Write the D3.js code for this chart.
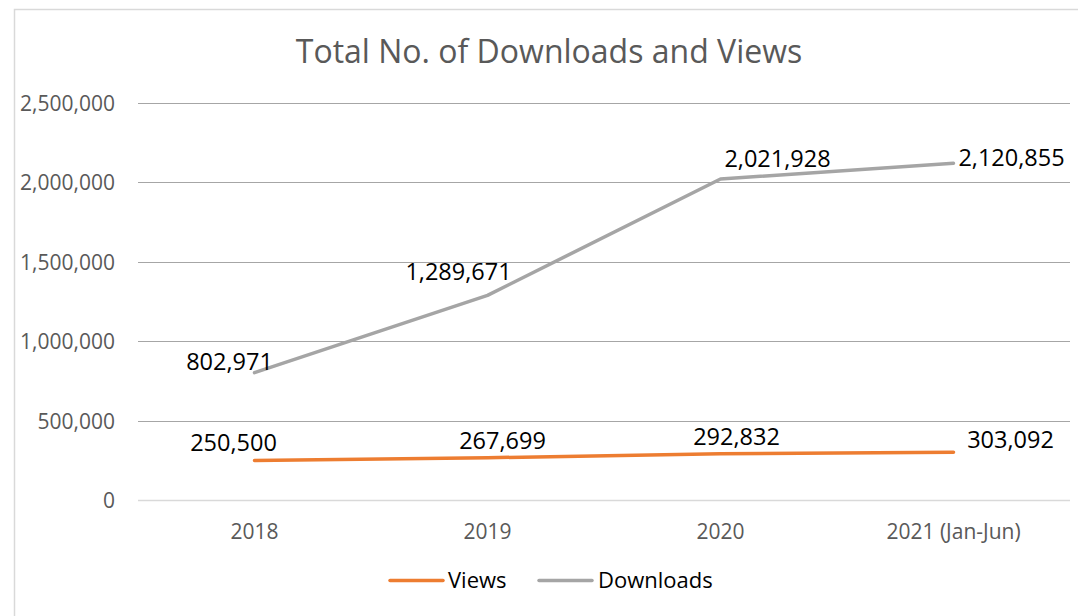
<!DOCTYPE html>
<html>
<head>
<meta charset="utf-8">
<script src="https://cdn.jsdelivr.net/npm/d3@7"></script>
<style>
  html, body { margin: 0; padding: 0; background: #fff; }
  svg { display: block; }
  text { font-family: "Open Sans", "Noto Sans", sans-serif; }
</style>
</head>
<body>
<svg id="chart" width="1078" height="616"></svg>
<script>
// ---- data ----
const categories = ["2018", "2019", "2020", "2021 (Jan-Jun)"];
const views = [250500, 267699, 292832, 303092];
const downloads = [802971, 1289671, 2021928, 2120855];
const yTicks = [0, 500000, 1000000, 1500000, 2000000, 2500000];
const title = "Total No. of Downloads and Views";
const seriesNames = ["Views", "Downloads"];

// ---- layout / style ----
const W = 1078, H = 616;
const plot = { left: 138, right: 1070, top: 103, bottom: 500.3 };
const colors = { Views: "#ED7D31", Downloads: "#A5A5A5" };
// label offsets relative to point (center x, baseline y)
const labelOffsets = {
  Views: [[-21, -9], [15, -9], [16, -9], [57, -4]],
  Downloads: [[-25, -3], [-29, -15], [57, -12], [58, 3]]
};

const svg = d3.select("#chart");

// border
svg.append("rect")
  .attr("x", 14.5).attr("y", 9.5)
  .attr("width", 1200).attr("height", 800)
  .attr("fill", "#fff").attr("stroke", "#d9d9d9").attr("stroke-width", 1.5);

const x = d3.scaleBand().domain(categories).range([plot.left, plot.right]).padding(0);
const y = d3.scaleLinear().domain([0, 2500000]).range([plot.bottom, plot.top]);
const fmt = d3.format(",");

// gridlines
svg.append("g").selectAll("line").data(yTicks).join("line")
  .attr("x1", plot.left).attr("x2", plot.right)
  .attr("y1", d => Math.round(y(d)) + 0.5).attr("y2", d => Math.round(y(d)) + 0.5)
  .attr("stroke", d => d === 0 ? "#d9d9d9" : "#a6a6a6")
  .attr("stroke-width", d => d === 0 ? 1.5 : 1);

// y tick labels
svg.append("g").selectAll("text").data(yTicks).join("text")
  .attr("x", 115).attr("y", d => y(d) + 8)
  .attr("text-anchor", "end")
  .attr("font-size", 21).attr("fill", "#595959")
  .text(d => fmt(d));

// x tick labels
svg.append("g").selectAll("text").data(categories).join("text")
  .attr("x", d => x(d) + x.bandwidth() / 2).attr("y", 539)
  .attr("text-anchor", "middle")
  .attr("font-size", 21).attr("fill", "#595959")
  .text(d => d);

// title
svg.append("text")
  .attr("x", 549).attr("y", 63)
  .attr("text-anchor", "middle")
  .attr("font-size", 32).attr("fill", "#595959")
  .text(title);

const cx = d => x(d) + x.bandwidth() / 2;
const line = d3.line().x(d => cx(d.c)).y(d => y(d.v));

const series = [
  { name: "Views", values: views },
  { name: "Downloads", values: downloads }
];

series.forEach(s => {
  const pts = categories.map((c, i) => ({ c, v: s.values[i], i }));
  svg.append("path").datum(pts)
    .attr("d", line)
    .attr("fill", "none")
    .attr("stroke", colors[s.name])
    .attr("stroke-width", 3.5)
    .attr("stroke-linecap", "round")
    .attr("stroke-linejoin", "round");
});

series.forEach(s => {
  const pts = categories.map((c, i) => ({ c, v: s.values[i], i }));
  svg.append("g").selectAll("text").data(pts).join("text")
    .attr("x", d => cx(d.c) + labelOffsets[s.name][d.i][0])
    .attr("y", d => y(d.v) + labelOffsets[s.name][d.i][1])
    .attr("text-anchor", "middle")
    .attr("font-size", 23.5).attr("fill", "#000")
    .text(d => fmt(d.v));
});

// legend
const legendItems = [
  { name: seriesNames[0], x1: 390, x2: 443, tx: 448 },
  { name: seriesNames[1], x1: 539, x2: 592, tx: 598 }
];
const lg = svg.append("g");
lg.selectAll("line").data(legendItems).join("line")
  .attr("x1", d => d.x1).attr("x2", d => d.x2)
  .attr("y1", 580.5).attr("y2", 580.5)
  .attr("stroke", d => colors[d.name]).attr("stroke-width", 3.5)
  .attr("stroke-linecap", "round");
lg.selectAll("text").data(legendItems).join("text")
  .attr("x", d => d.tx).attr("y", 588)
  .attr("font-size", 22).attr("fill", "#000")
  .text(d => d.name);
</script>
</body>
</html>
